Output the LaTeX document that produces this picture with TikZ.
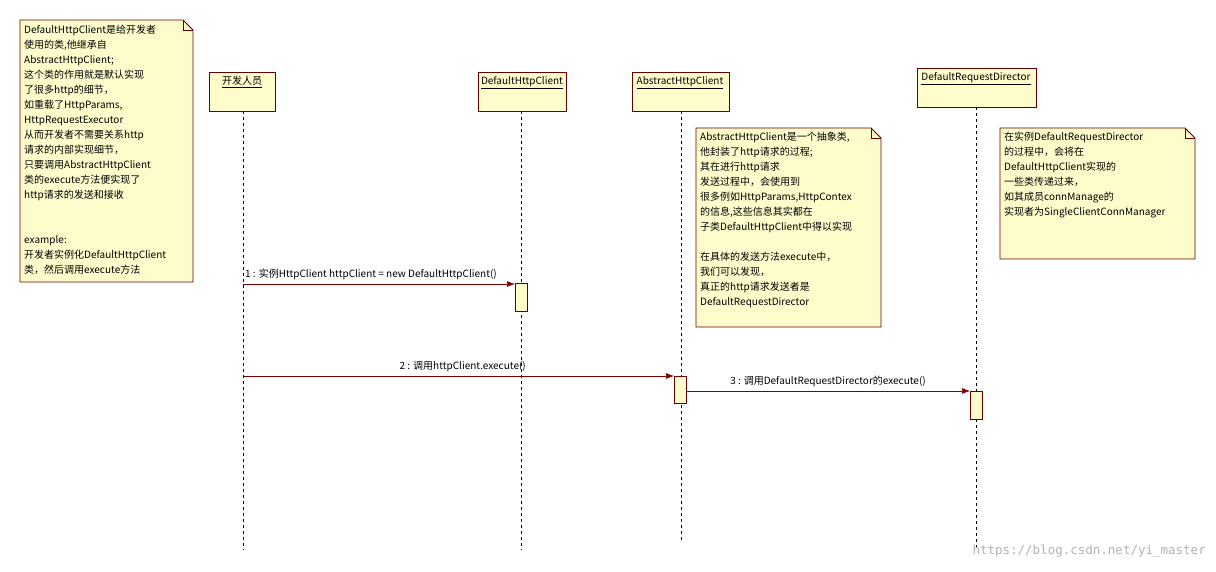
\documentclass[tikz,border=0pt]{standalone}
\usepackage{fontspec}
\setmainfont{Noto Sans CJK SC}
\newfontfamily\wm{DejaVu Sans Mono}
\usetikzlibrary{arrows.meta}
\begin{document}
\begin{tikzpicture}[x=1pt,y=-1pt,
  note/.style={draw=red!40!black,fill=yellow!20,line width=0.8pt},
  obj/.style={draw=red!40!black,fill=yellow!20,line width=0.8pt},
  life/.style={dashed,line width=0.6pt},
  act/.style={draw=red!40!black,fill=yellow!20,line width=0.6pt},
  msg/.style={draw=red!50!black,line width=0.6pt,-{Latex[length=8pt,width=6pt]}},
  txt/.style={font=\fontsize{10}{15}\selectfont,align=left,inner sep=0pt,anchor=north west},
  lbl/.style={font=\fontsize{10}{11}\selectfont,inner sep=1pt}]
\useasboundingbox (0,0) rectangle (1216,572);
\fill[white] (0,0) rectangle (1216,572);
% notes
\newcommand{\mynote}[4]{\draw[note] (#1,#2) -- (#3-10,#2) -- (#3,#2+10) -- (#3,#4) -- (#1,#4) -- cycle;
  \draw[note,fill=none] (#3-10,#2) -- (#3-10,#2+10) -- (#3,#2+10);}
\mynote{20}{20}{193}{282}
\mynote{696}{128}{881}{327}
\mynote{1000}{128}{1195}{259}
\node[txt] (n1) at (24,25) {DefaultHttpClient是给开发者\\使用的类,他继承自\\AbstractHttpClient;\\这个类的作用就是默认实现\\了很多http的细节，\\如重载了HttpParams,\\HttpRequestExecutor\\从而开发者不需要关系http\\请求的内部实现细节，\\只要调用AbstractHttpClient\\类的execute方法便实现了\\http请求的发送和接收\\ \\ \\example:\\开发者实例化DefaultHttpClient\\类，然后调用execute方法};
\node[txt] (n2) at (700,132) {AbstractHttpClient是一个抽象类,\\他封装了http请求的过程;\\其在进行http请求\\发送过程中，会使用到\\很多例如HttpParams,HttpContex\\的信息,这些信息其实都在\\子类DefaultHttpClient中得以实现\\ \\在具体的发送方法execute中，\\我们可以发现，\\真正的http请求发送者是\\DefaultRequestDirector};
\node[txt] (n3) at (1004,132) {在实例DefaultRequestDirector\\的过程中，会将在\\DefaultHttpClient实现的\\一些类传递过来，\\如其成员connManage的\\实现者为SingleClientConnManager};
% objects
\draw[obj] (209,72) rectangle (275,111);
\node[lbl,anchor=north] (o1) at (242,75) {\underline{开发人员}};
\draw[obj] (478,72) rectangle (566,111);
\node[lbl,anchor=north] (o2) at (522,75) {\underline{DefaultHttpClient}};
\draw[obj] (632,72) rectangle (729,111);
\node[lbl,anchor=north] (o3) at (680,75) {\underline{AbstractHttpClient}};
\draw[obj] (917,68) rectangle (1036,107);
\node[lbl,anchor=north] (o4) at (976,71) {\underline{DefaultRequestDirector}};
% lifelines
\coordinate (e1) at (243,550); \coordinate (e2) at (521,550);
\coordinate (e3) at (681,540); \coordinate (e4) at (976,548);
\draw[life] (243,111) -- (e1);
\draw[life] (521,111) -- (e2);
\draw[life] (681,111) -- (e3);
\draw[life] (976,107) -- (e4);
% activations
\draw[act] (515,283) rectangle (527,311);
\draw[act] (674,376) rectangle (686,403);
\draw[act] (970,391) rectangle (982,419);
\coordinate (a1) at (515,284); \coordinate (s1) at (243,284);
\coordinate (a2) at (674,376); \coordinate (s2) at (243,376);
\coordinate (a3) at (970,391); \coordinate (s3) at (686,391);
\draw[msg] (s1) -- (a1);
\draw[msg] (s2) -- (a2);
\draw[msg] (s3) -- (a3);
\node[lbl,anchor=south west] (m1) at (244,281) {1 : 实例HttpClient httpClient = new DefaultHttpClient()};
\node[lbl,anchor=south east] (m2) at (527,373) {2 : 调用httpClient.execute()};
\node[lbl,anchor=south] (m3) at (828,388) {3 : 调用DefaultRequestDirector的execute()};
\node[inner sep=0pt,anchor=east,text=black!30,font=\wm\fontsize{12.5}{14}\selectfont] (w) at (1206,551) {https://blog.csdn.net/yi\_master};
\end{tikzpicture}
\end{document}
